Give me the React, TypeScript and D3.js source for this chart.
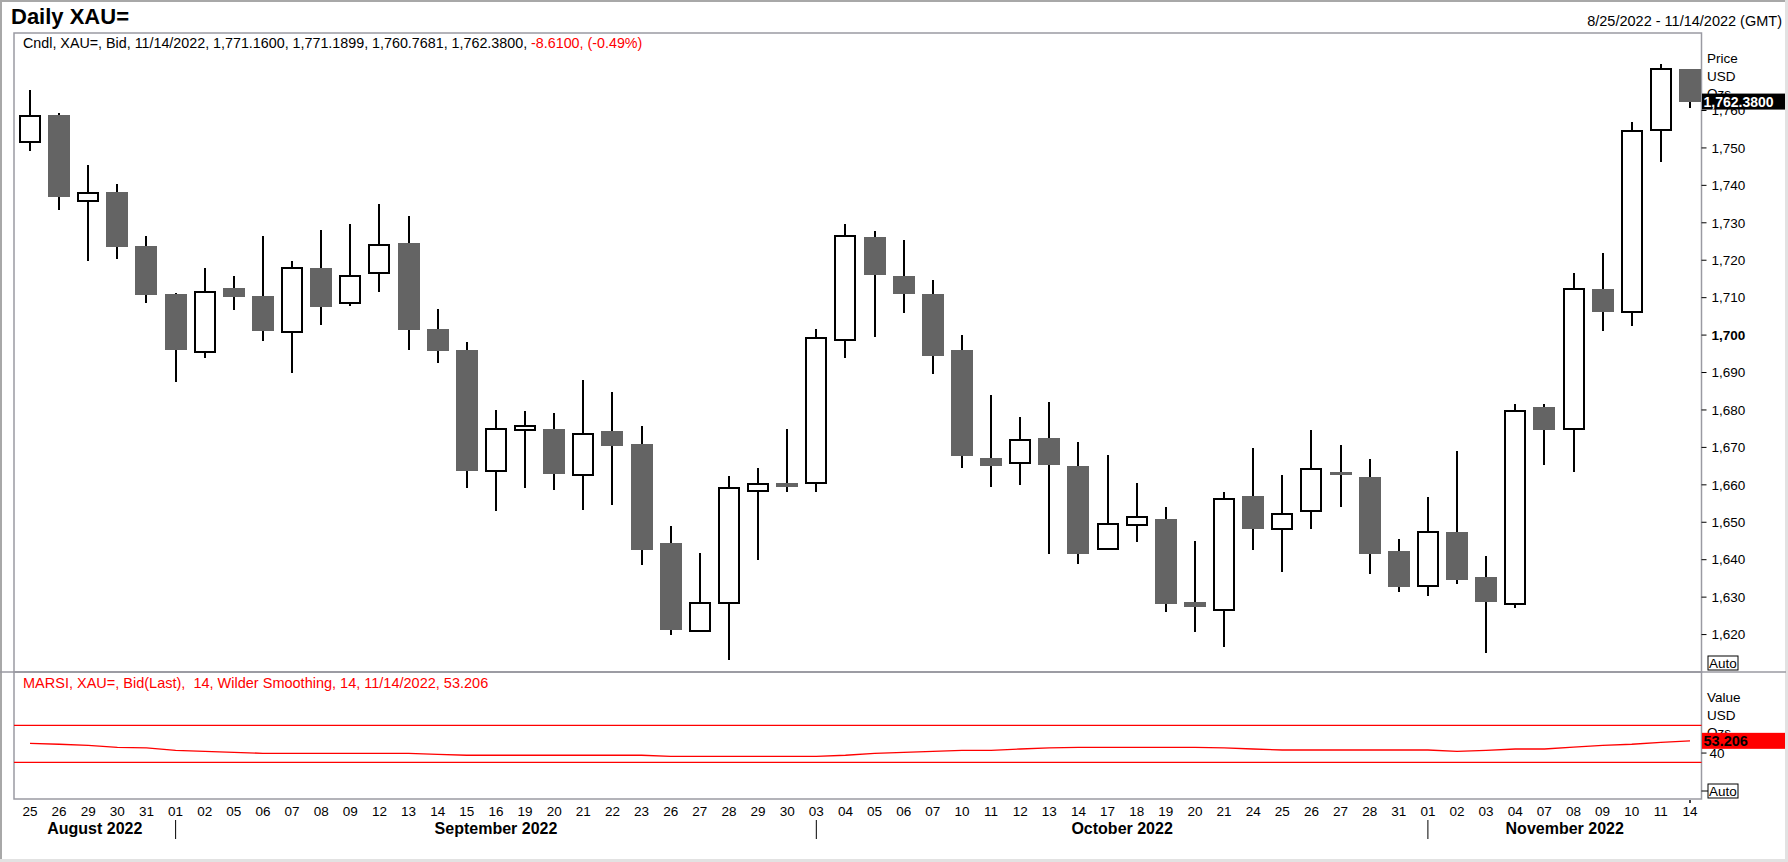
import React from "react";
import * as d3 from "d3";

// ---------- data ----------
const dayLabels = [
  "25","26","29","30","31",
  "01","02","05","06","07","08","09","12","13","14","15","16","19","20","21","22","23","26","27","28","29","30",
  "03","04","05","06","07","10","11","12","13","14","17","18","19","20","21","24","25","26","27","28","31",
  "01","02","03","04","07","08","09","10","11","14",
];
const monthLabels = ["August 2022", "September 2022", "October 2022", "November 2022"];
const monthStartIdx = [0, 5, 27, 48];

const opens = [
  1751.5, 1758.7, 1735.9, 1738.2, 1723.7,
  1711.1, 1695.5, 1712.5, 1710.5, 1700.8, 1718.0, 1708.7, 1716.7, 1724.5, 1701.7, 1695.9, 1663.6, 1674.8, 1675.0, 1662.6, 1674.4, 1670.9, 1644.5, 1620.9, 1628.5, 1658.3, 1660.4,
  1660.5, 1698.7, 1726.3, 1715.9, 1711.1, 1695.9, 1667.2, 1665.9, 1672.6, 1665.0, 1642.8, 1649.4, 1651.0, 1628.8, 1626.5, 1656.9, 1648.2, 1652.9, 1663.5, 1662.2, 1642.2,
  1632.9, 1647.4, 1635.4, 1628.2, 1680.9, 1674.9, 1712.3, 1706.2, 1754.7, 1771.16,
];
const highs = [
  1765.6, 1759.2, 1745.4, 1740.3, 1726.6,
  1711.3, 1718.0, 1715.9, 1726.6, 1719.7, 1728.2, 1729.6, 1734.9, 1731.8, 1707.0, 1698.1, 1680.1, 1679.7, 1679.1, 1688.0, 1684.7, 1675.8, 1649.1, 1641.9, 1662.3, 1664.5, 1675.0,
  1701.6, 1729.6, 1727.8, 1725.5, 1714.8, 1700.0, 1683.9, 1678.2, 1682.2, 1671.5, 1668.0, 1660.4, 1654.2, 1645.1, 1658.2, 1669.8, 1662.6, 1674.7, 1670.6, 1666.8, 1645.5,
  1656.7, 1669.1, 1640.9, 1681.7, 1681.5, 1716.7, 1722.0, 1757.0, 1772.5, 1771.19,
];
const lows = [
  1749.3, 1733.4, 1719.8, 1720.3, 1708.5,
  1687.5, 1693.9, 1706.7, 1698.4, 1689.9, 1702.8, 1707.7, 1711.6, 1696.1, 1692.6, 1659.2, 1652.9, 1659.2, 1658.7, 1653.4, 1654.7, 1638.7, 1620.0, 1620.9, 1613.3, 1640.0, 1658.0,
  1658.0, 1694.0, 1699.4, 1705.9, 1689.6, 1664.5, 1659.3, 1659.9, 1641.4, 1638.9, 1642.6, 1644.7, 1626.0, 1620.8, 1616.8, 1642.6, 1636.7, 1648.3, 1654.2, 1636.2, 1631.3,
  1630.4, 1633.6, 1615.2, 1627.2, 1665.4, 1663.5, 1701.1, 1702.4, 1746.2, 1760.77,
];
const closes = [
  1758.6, 1736.9, 1737.9, 1723.4, 1710.6,
  1696.1, 1711.4, 1710.3, 1701.2, 1717.9, 1707.4, 1715.9, 1724.0, 1701.4, 1695.8, 1663.6, 1674.9, 1675.5, 1662.8, 1673.5, 1670.4, 1642.6, 1621.3, 1628.5, 1659.2, 1660.1, 1659.3,
  1699.1, 1726.5, 1716.0, 1710.9, 1694.4, 1667.6, 1664.9, 1672.0, 1665.4, 1641.4, 1649.6, 1651.3, 1628.1, 1627.4, 1656.2, 1648.1, 1652.3, 1664.1, 1662.9, 1641.4, 1632.8,
  1647.3, 1634.7, 1628.8, 1679.8, 1674.7, 1712.2, 1706.1, 1754.5, 1770.99, 1762.38,
];
const rsiValues = [
  50.5, 49.5, 48.4, 46.2, 45.5,
  43.0, 41.9, 40.8, 39.7, 39.7, 39.7, 39.7, 39.7, 39.7, 38.6, 37.6, 37.6, 37.6, 37.6, 37.6, 37.6, 37.6, 36.5, 36.5, 36.5, 36.5, 36.5,
  36.5, 37.6, 39.7, 40.8, 41.9, 43.0, 43.0, 44.4, 45.5, 46.2, 46.2, 46.2, 46.2, 46.2, 45.5, 44.4, 43.3, 43.3, 43.3, 43.3, 43.3,
  43.3, 41.9, 43.0, 44.4, 44.4, 46.5, 48.4, 49.5, 51.6, 53.206,
];
const priceTicks = [1620, 1630, 1640, 1650, 1660, 1670, 1680, 1690, 1700, 1710, 1720, 1730, 1740, 1750, 1760];
const rsiBands = [70, 30];
const rsiTicks = [40];

const title = "Daily XAU=";
const dateRange = "8/25/2022 - 11/14/2022 (GMT)";
const headerBlack = "Cndl, XAU=, Bid, 11/14/2022, 1,771.1600, 1,771.1899, 1,760.7681, 1,762.3800, ";
const headerRed = "-8.6100, (-0.49%)";
const rsiHeader = "MARSI, XAU=, Bid(Last),  14, Wilder Smoothing, 14, 11/14/2022, 53.206";
const lastPrice = 1762.38;
const lastRsi = 53.206;

// ---------- layout ----------
const W = 1788;
const H = 862;
const L = 14;
const R = 1701.5;
const T = 33;
const MID = 672;
const B = 799;
const FONT = "Arial, 'Liberation Sans', sans-serif";
const FRAME = "#9a9aa2";

export default function App() {
  const idx = d3.range(dayLabels.length);
  const x = d3.scalePoint<number>().domain(idx).range([30, 1690]);
  const y = d3.scaleLinear().domain([1610, 1780.7]).range([MID, T]);
  const yr = d3.scaleLinear().domain([30, 70]).range([762.3, 725.3]);
  const fmt = d3.format(",");
  const bodyW = 22;

  const rsiLine = d3
    .line<number>()
    .x((_, i) => x(i) as number)
    .y((d) => yr(d))(rsiValues);

  const sepX = monthStartIdx.map((m, k) => (k === 0 ? L : (x(m) as number)));
  const monthCenters = monthStartIdx.map((_, k) => {
    const a = sepX[k];
    const b = k + 1 < sepX.length ? sepX[k + 1] : R;
    return (a + b) / 2;
  });

  return (
    <div style={{ position: "absolute", left: 0, top: 0 }}>
      <svg width={W} height={H} style={{ display: "block", fontFamily: FONT }}>
        <rect x={0} y={0} width={W} height={H} fill="#fff" />
        {/* outer window border */}
        <line x1={0} x2={W} y1={1} y2={1} stroke="#a8a8a8" strokeWidth={2} />
        <line x1={1} x2={1} y1={0} y2={H} stroke="#a8a8a8" strokeWidth={2} />
        <line x1={0} x2={W} y1={860.5} y2={860.5} stroke="#e2e2e2" strokeWidth={3} />
        <line x1={1786.5} x2={1786.5} y1={0} y2={H} stroke="#e2e2e2" strokeWidth={3} />

        {/* titles */}
        <text x={11} y={24} fontSize={22} fontWeight="bold" fill="#000">{title}</text>
        <text x={1782} y={26} fontSize={14.5} textAnchor="end" fill="#000">{dateRange}</text>

        {/* panel frames */}
        <rect x={L} y={T} width={R - L} height={MID - T} fill="none" stroke={FRAME} strokeWidth={1.5} />
        <line x1={0} x2={1786} y1={MID} y2={MID} stroke={FRAME} strokeWidth={1.5} />
        <rect x={L} y={MID} width={R - L} height={B - MID} fill="none" stroke={FRAME} strokeWidth={1.5} />

        {/* header */}
        <text x={23} y={47.5} fontSize={14.3} style={{ whiteSpace: "pre" }}>
          <tspan fill="#000">{headerBlack}</tspan>
          <tspan fill="#ff0000">{headerRed}</tspan>
        </text>

        {/* candles */}
        <g shapeRendering="crispEdges">
          {idx.map((i) => {
            const cx = x(i) as number;
            const o = opens[i];
            const c = closes[i];
            const up = c >= o;
            const top = y(Math.max(o, c));
            const bot = y(Math.min(o, c));
            const hUp = Math.max(bot - top, 4);
            return (
              <g key={i}>
                <line x1={cx} x2={cx} y1={y(highs[i])} y2={y(lows[i])} stroke="#000" strokeWidth={2} />
                {up ? (
                  <rect x={cx - bodyW / 2 + 1} y={(top + bot) / 2 - hUp / 2} width={bodyW - 2} height={hUp} fill="#fff" stroke="#000" strokeWidth={2} />
                ) : (
                  <rect x={cx - bodyW / 2} y={top} width={bodyW} height={Math.max(bot - top, 3)} fill="#646464" />
                )}
              </g>
            );
          })}
        </g>

        {/* price axis */}
        <g fontSize={13.5} fill="#000">
          {priceTicks.map((t) => (
            <g key={t}>
              <line x1={R} x2={R + 5} y1={y(t)} y2={y(t)} stroke="#000" strokeWidth={1} />
              <text x={R + 10} y={y(t)} dy="0.35em" fontWeight={t === 1700 ? "bold" : "normal"}>{fmt(t)}</text>
            </g>
          ))}
          <text x={1707} y={58} dy="0.35em">Price</text>
          <text x={1707} y={76} dy="0.35em">USD</text>
          <text x={1707} y={93} dy="0.35em">Ozs</text>
        </g>
        <rect x={R + 0.5} y={y(lastPrice) - 8} width={83} height={16} fill="#000" />
        <text x={R + 2} y={y(lastPrice)} dy="0.36em" fontSize={14} fontWeight="bold" fill="#fff">
          {d3.format(",.4f")(lastPrice)}
        </text>
        <rect x={1708} y={656} width={30} height={14} fill="#fff" stroke="#000" strokeWidth={1} />
        <text x={1723} y={663} dy="0.36em" fontSize={13.5} textAnchor="middle" fill="#000">Auto</text>

        {/* RSI panel */}
        <text x={23} y={687.5} fontSize={14.5} fill="#ff0000" style={{ whiteSpace: "pre" }}>{rsiHeader}</text>
        {rsiBands.map((b) => (
          <line key={b} x1={L} x2={R} y1={yr(b)} y2={yr(b)} stroke="#ff0000" strokeWidth={1.2} />
        ))}
        <path d={rsiLine || ""} fill="none" stroke="#ff0000" strokeWidth={1.3} />
        <g fontSize={13.5} fill="#000">
          {rsiTicks.map((t) => (
            <g key={t}>
              <line x1={R} x2={R + 5} y1={yr(t)} y2={yr(t)} stroke="#000" strokeWidth={1} />
              <text x={R + 8} y={yr(t)} dy="0.35em">{t}</text>
            </g>
          ))}
          <text x={1707} y={697} dy="0.35em">Value</text>
          <text x={1707} y={715} dy="0.35em">USD</text>
          <text x={1707} y={732} dy="0.35em">Ozs</text>
        </g>
        <rect x={R + 0.5} y={yr(lastRsi) - 8} width={83} height={16} fill="#ff0000" />
        <text x={R + 2} y={yr(lastRsi)} dy="0.36em" fontSize={14.5} fontWeight="bold" fill="#000">
          {d3.format(".3f")(lastRsi)}
        </text>
        <line x1={R} x2={1708} y1={791} y2={791} stroke="#000" strokeWidth={1} />
        <rect x={1708} y={784} width={30} height={14} fill="#fff" stroke="#000" strokeWidth={1} />
        <text x={1723} y={791} dy="0.36em" fontSize={13.5} textAnchor="middle" fill="#000">Auto</text>

        {/* date axis */}
        <g fontSize={13.5} fill="#000" textAnchor="middle">
          {idx.map((i) => (
            <text key={i} x={x(i) as number} y={816}>{dayLabels[i]}</text>
          ))}
        </g>
        <line x1={x(idx.length - 1) as number} x2={x(idx.length - 1) as number} y1={800} y2={803} stroke="#000" strokeWidth={1.5} />
        {sepX.slice(1).map((sx, k) => (
          <line key={k} x1={sx} x2={sx} y1={820} y2={839} stroke="#000" strokeWidth={1} />
        ))}
        <g fontSize={16} fontWeight="bold" fill="#000" textAnchor="middle">
          {monthLabels.map((m, k) => (
            <text key={m} x={monthCenters[k]} y={834}>{m}</text>
          ))}
        </g>
      </svg>
    </div>
  );
}
